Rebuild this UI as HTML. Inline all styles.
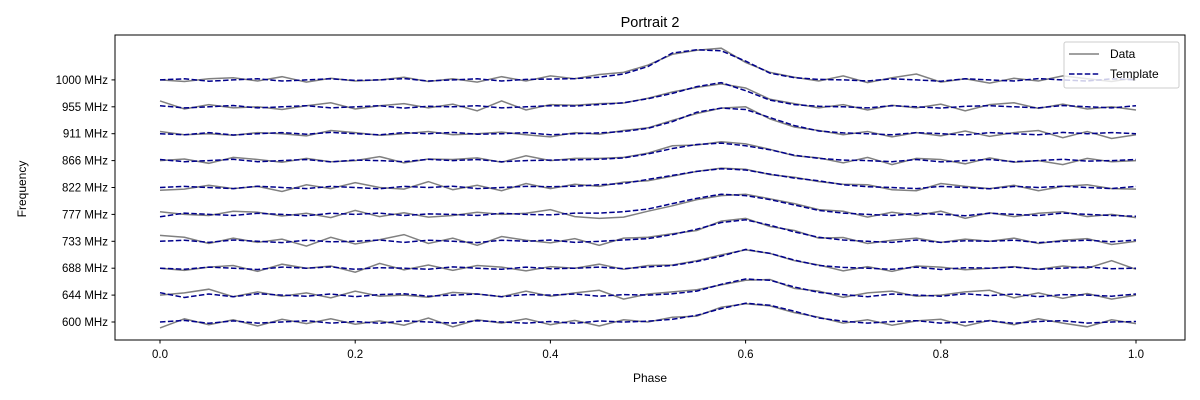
<!DOCTYPE html>
<html><head><meta charset="utf-8"><style>
body{margin:0;background:#fff;}
svg{display:block;font-family:"Liberation Sans","DejaVu Sans",sans-serif;}
</style></head><body>
<svg id="chart" width="1200" height="400" viewBox="0 0 1200 400">
<rect x="0" y="0" width="1200" height="400" fill="#fff"/>
<text x="650" y="27" font-size="14.5" text-anchor="middle">Portrait 2</text>
<g id="plot"></g>
<rect x="115" y="35" width="1070" height="305" fill="none" stroke="#000" stroke-width="1"/>
<g id="xaxis"></g><g id="yaxis"></g>
<text x="650" y="382" font-size="12" text-anchor="middle">Phase</text>
<text x="26" y="189" font-size="12" text-anchor="middle" transform="rotate(-90 26 189)">Frequency</text>
<g>
<rect x="1064" y="42" width="115" height="46" rx="2" fill="#fff" fill-opacity="0.8" stroke="#ccc" stroke-width="1"/>
<g><line x1="1069" y1="54" x2="1099" y2="54" stroke="#808080" stroke-width="1.5"/><text x="1110" y="58" font-size="12">Data</text></g>
<g><line x1="1069" y1="74" x2="1099" y2="74" stroke="#00008b" stroke-width="1.5" stroke-dasharray="5.5,2.4"/><text x="1110" y="78" font-size="12">Template</text></g>
</g>
</svg>
<script>
const channels=["600 MHz","644 MHz","688 MHz","733 MHz","777 MHz","822 MHz","866 MHz","911 MHz","955 MHz","1000 MHz"];
const xTicks=[0,0.2,0.4,0.6,0.8,1.0];
const xTickLabels=["0.0","0.2","0.4","0.6","0.8","1.0"];
const template0=[0,6,-5,4,-4,0,5,-4,2,-5,4,0,-4,5,0,-4,2,-5,4,0,3,10,25,50,70,62,40,15,3,-4,2,5,-4,0,4,-5,2,5,-4,0,2];
const data0=[-22,12,-10,8,-15,10,-6,12,-8,4,-12,15,-18,8,-4,12,-10,6,-15,8,0,18,22,55,68,60,35,18,-4,8,-12,4,10,-15,6,-10,12,-4,-18,8,-6];
const template1=[9,-9,4,-6,5,0,-4,4,-6,2,5,-4,0,4,-6,2,0,4,-4,2,0,5,15,40,60,55,30,10,2,-6,4,0,-4,5,-2,4,-6,2,0,-4,4];
const data1=[0,8,22,-6,12,-4,8,-10,15,-4,0,-8,10,4,-6,15,-4,8,18,-15,4,12,20,38,55,58,25,15,-8,8,15,-4,0,12,18,-10,8,-12,6,-15,0];
const template2=[0,-4,4,0,-5,4,0,5,-4,2,0,-4,5,0,-4,4,-2,0,4,-2,5,10,25,45,70,55,30,10,3,0,-4,4,-5,2,0,4,-4,0,5,-2,0];
const data2=[0,-8,4,10,-12,15,0,8,-15,18,-6,12,-8,10,4,-10,6,0,15,-4,10,12,28,50,68,55,28,12,-10,6,-12,8,4,-6,0,6,-4,8,0,28,-4];
const template3=[0,4,-4,5,0,-5,4,-2,0,5,-4,4,0,-5,4,0,5,-4,0,5,10,25,45,70,80,60,35,15,5,0,-4,5,-4,2,0,4,-5,0,4,-2,5];
const data3=[22,15,-8,12,-4,8,-18,15,-10,6,25,-8,12,-15,18,4,-6,10,-15,12,15,28,40,75,85,55,40,12,14,-8,4,12,-4,8,0,12,-8,4,10,-12,0];
const template4=[-9,5,0,-4,4,0,-5,4,0,5,-4,2,0,-4,4,0,-2,5,5,10,20,40,60,75,70,55,35,15,5,0,-4,4,0,-5,4,0,-4,5,0,-4,-7];
const data4=[10,0,-4,12,8,-6,4,-12,15,-8,6,-10,-4,8,0,4,18,-8,-15,-10,12,32,55,70,75,58,40,18,12,-10,8,-4,12,-15,6,-8,4,10,-8,0,-12];
const template5=[0,4,0,-4,5,0,-4,4,0,-5,4,0,5,-4,0,4,3,5,10,15,30,45,60,70,65,50,35,25,10,3,0,-4,4,0,-5,4,0,5,0,-4,4];
const data5=[-10,-6,8,-4,4,-15,10,-4,18,0,-6,22,-8,8,-12,15,-4,12,4,20,25,42,60,72,68,48,38,22,12,10,-8,-12,15,4,-4,8,-12,4,10,-4,-6];
const template6=[4,-4,0,5,-4,0,4,-5,2,0,-4,5,0,4,-4,0,2,3,5,10,25,45,60,65,55,40,20,8,2,0,-4,4,-5,0,4,-4,0,5,-2,0,4];
const data6=[0,6,-10,12,4,-6,8,-4,0,15,-8,6,4,10,-6,18,0,8,8,12,28,55,58,70,62,42,18,10,-8,12,-15,8,4,-12,10,-6,0,-15,8,-4,0];
const template7=[0,-4,4,-5,0,4,-2,5,0,-4,4,0,5,-2,0,4,-4,0,3,8,20,45,80,95,90,60,30,10,3,0,-4,4,0,-5,4,0,-4,5,0,4,0];
const data7=[8,-4,0,-6,4,0,-8,12,4,-6,0,8,-4,0,6,-4,-12,4,-2,12,22,50,75,95,100,55,25,12,-4,8,-12,4,-8,10,-10,4,12,-15,8,-18,-4];
const template8=[4,-4,0,5,-4,0,4,-4,0,4,-5,2,0,4,-4,0,4,3,8,15,30,50,75,90,60,25,8,2,0,-4,4,0,-5,2,4,0,-4,5,0,-4,4];
const data8=[22,-8,8,-4,0,-10,4,15,-8,4,12,-4,10,-15,22,-12,8,6,12,14,32,55,72,85,70,28,12,-4,8,-12,6,-4,10,-15,8,15,-6,10,-8,0,-12];
const template9=[0,4,-5,0,4,-4,0,4,-2,0,5,-4,0,4,-4,2,3,5,10,22,50,100,112,108,70,25,8,2,0,-4,4,0,-5,4,0,-4,5,0,-4,4,0];
const data9=[0,-6,4,8,-4,12,-8,6,-4,0,10,-6,4,-8,12,-4,15,4,20,28,55,95,110,118,65,28,10,-4,15,-10,8,22,-8,4,-12,6,-4,15,4,-6,8];
const templates=[template0,template1,template2,template3,template4,template5,template6,template7,template8,template9];
const datas=[data0,data1,data2,data3,data4,data5,data6,data7,data8,data9];

const NS="http://www.w3.org/2000/svg";
function xScale(p){return 160+p*976;}
function yScale(v){return 322-v*26.9;}
function mk(tag,attrs,parent){const e=document.createElementNS(NS,tag);for(const k in attrs)e.setAttribute(k,attrs[k]);parent.appendChild(e);return e;}
const plot=document.getElementById('plot');
function pathFor(arr,i){const n=arr.length;return arr.map((v,k)=>(k?'L':'M')+xScale(k/(n-1)).toFixed(1)+','+yScale(i+v/100).toFixed(1)).join('');}
for(let i=0;i<channels.length;i++){
  const d=mk('path',{d:pathFor(datas[i],i),fill:'none',stroke:'#808080','stroke-width':1.5},plot);
  
  
  const t=mk('path',{d:pathFor(templates[i],i),fill:'none',stroke:'#00008b','stroke-width':1.5,'stroke-dasharray':'5.5,2.4'},plot);
  
  
}
const xa=document.getElementById('xaxis');
xTicks.forEach((p,j)=>{
  const x=xScale(p);
  const l=mk('line',{x1:x,y1:340,x2:x,y2:343.5,stroke:'#000'},xa);
  
  
  const t=mk('text',{x:x,y:358,'font-size':11.5,'text-anchor':'middle'},xa);
  t.textContent=xTickLabels[j];
  
  
});
const ya=document.getElementById('yaxis');
channels.forEach((c,i)=>{
  const y=yScale(i);
  const l=mk('line',{x1:111.5,y1:y,x2:115,y2:y,stroke:'#000'},ya);
  
  
  const t=mk('text',{x:108,y:y+4,'font-size':11.5,'text-anchor':'end'},ya);
  t.textContent=c;
  
  
});
</script>
</body></html>
